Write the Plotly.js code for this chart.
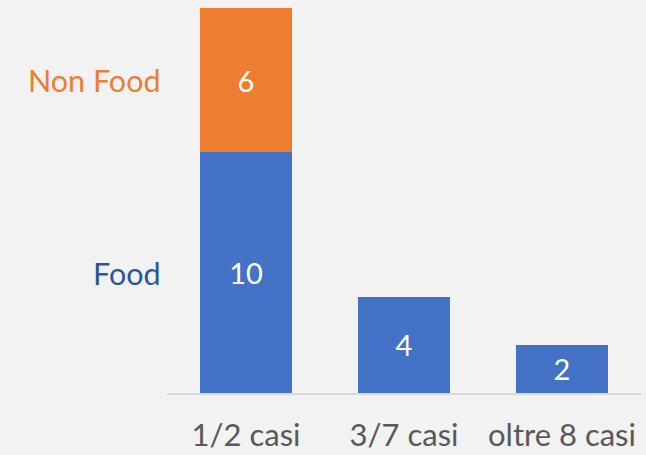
<!DOCTYPE html>
<html><head><meta charset="utf-8">
<script src="https://cdn.plot.ly/plotly-3.0.1.min.js"></script>
<style>html,body{margin:0;padding:0;background:#f2f2f2;}#chart{width:646px;height:455px;}</style>
</head><body><div id="chart"></div>
<script>
const categories = ["1/2 casi", "3/7 casi", "oltre 8 casi"];
const foodValues = [10, 4, 2];
const nonFoodValues = [6, null, null];
const seriesNames = ["Food", "Non Food"];

const FONT = "Lato, 'Open Sans', sans-serif";
const traces = [
  {type: "bar", name: seriesNames[0], x: categories, y: foodValues,
   marker: {color: "#4472c4"}, text: foodValues.map(v => v == null ? "" : String(v)),
   textposition: "inside", insidetextanchor: "middle",
   textfont: {color: "#ffffff", size: 29, family: FONT}, hoverinfo: "none"},
  {type: "bar", name: seriesNames[1], x: categories, y: nonFoodValues,
   marker: {color: "#ed7d31"}, text: nonFoodValues.map(v => v == null ? "" : String(v)),
   textposition: "inside", insidetextanchor: "middle",
   textfont: {color: "#ffffff", size: 29, family: FONT}, hoverinfo: "none"}
];
const layout = {
  width: 646, height: 455,
  paper_bgcolor: "#f2f2f2", plot_bgcolor: "#f2f2f2",
  margin: {l: 167, r: 5, t: 8, b: 62},
  barmode: "stack", bargap: 0.418, showlegend: false,
  font: {family: FONT, color: "#595959"},
  xaxis: {showline: true, linecolor: "#d9d9d9", linewidth: 1.5, ticks: "",
          tickfont: {size: 31, color: "#595959", family: FONT}, ticklabelstandoff: 14,
          showgrid: false, zeroline: false, fixedrange: true},
  yaxis: {range: [0, 16], visible: false, showgrid: false, zeroline: false, fixedrange: true},
  annotations: [
    {xref: "paper", yref: "y", x: -0.008, y: foodValues[0] + nonFoodValues[0] / 2,
     text: seriesNames[1], showarrow: false, xanchor: "right", yanchor: "middle",
     font: {size: 30.5, color: "#ed7d31", family: FONT}},
    {xref: "paper", yref: "y", x: -0.008, y: foodValues[0] / 2,
     text: seriesNames[0], showarrow: false, xanchor: "right", yanchor: "middle",
     font: {size: 30.5, color: "#2f5597", family: FONT}}
  ]
};
Plotly.newPlot("chart", traces, layout, {displayModeBar: false, staticPlot: true});
</script></body></html>
